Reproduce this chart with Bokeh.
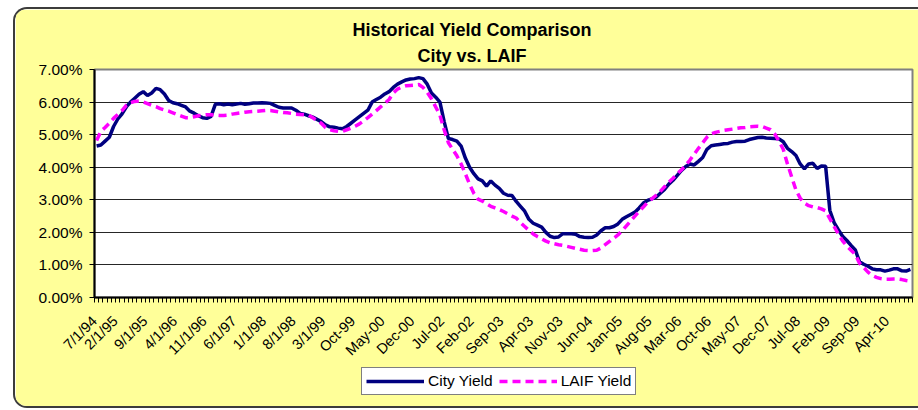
import math
from bokeh.plotting import figure
from bokeh.models import (Range1d, FixedTicker, PrintfTickFormatter, Legend,
                          LegendItem, Title, ColumnDataSource)
from bokeh.embed import file_html
from bokeh.resources import INLINE

# ---------------- data ----------------
title_lines = ["Historical Yield Comparison", "City vs. LAIF"]
series_names = ["City Yield", "LAIF Yield"]
tick_labels = ["7/1/94", "2/1/95", "9/1/95", "4/1/96", "11/1/96", "6/1/97", "1/1/98",
               "8/1/98", "3/1/99", "Oct-99", "May-00", "Dec-00", "Jul-02", "Feb-02",
               "Sep-03", "Apr-03", "Nov-03", "Jun-04", "Jan-05", "Aug-05", "Mar-06",
               "Oct-06", "May-07", "Dec-07", "Jul-08", "Feb-09", "Sep-09", "Apr-10"]
label_step = 7

city_yield = [
    4.65, 4.68, 4.80, 4.92, 5.25, 5.48, 5.64, 5.85, 6.00, 6.12,
    6.24, 6.32, 6.20, 6.28, 6.42, 6.38, 6.25, 6.05, 5.98, 5.95,
    5.90, 5.85, 5.72, 5.66, 5.58, 5.52, 5.50, 5.56, 5.93, 5.95,
    5.92, 5.94, 5.92, 5.94, 5.96, 5.93, 5.95, 5.97, 5.97, 5.98,
    5.97, 5.96, 5.90, 5.84, 5.82, 5.82, 5.82, 5.75, 5.65, 5.63,
    5.58, 5.54, 5.47, 5.40, 5.30, 5.24, 5.23, 5.20, 5.18, 5.25,
    5.35, 5.45, 5.55, 5.65, 5.75, 6.00, 6.08, 6.15, 6.25, 6.32,
    6.45, 6.55, 6.62, 6.68, 6.71, 6.72, 6.75, 6.72, 6.55, 6.28,
    6.15, 6.00, 5.40, 4.88, 4.85, 4.80, 4.65, 4.28, 4.00, 3.80,
    3.64, 3.58, 3.42, 3.58, 3.45, 3.35, 3.20, 3.14, 3.13, 2.95,
    2.80, 2.65, 2.40, 2.28, 2.22, 2.16, 2.00, 1.88, 1.84, 1.86,
    1.96, 1.96, 1.96, 1.94, 1.87, 1.85, 1.84, 1.85, 1.92, 2.05,
    2.14, 2.14, 2.18, 2.26, 2.40, 2.48, 2.55, 2.62, 2.75, 2.90,
    2.98, 3.03, 3.08, 3.20, 3.32, 3.48, 3.60, 3.75, 3.90, 4.02,
    4.10, 4.07, 4.18, 4.30, 4.55, 4.66, 4.68, 4.70, 4.72, 4.73,
    4.77, 4.79, 4.79, 4.80, 4.85, 4.88, 4.91, 4.92, 4.90, 4.89,
    4.88, 4.87, 4.78, 4.58, 4.48, 4.36, 4.10, 3.95, 4.10, 4.12,
    3.96, 4.04, 4.03, 2.67, 2.30, 2.08, 1.88, 1.75, 1.60, 1.46,
    1.10, 1.02, 0.96, 0.88, 0.85, 0.85, 0.81, 0.84, 0.88, 0.88,
    0.82, 0.81, 0.86,
]

laif_yield = [
    4.82, 5.10, 5.22, 5.35, 5.50, 5.62, 5.74, 5.90, 5.98, 6.02,
    6.03, 6.00, 5.95, 5.90, 5.86, 5.80, 5.76, 5.72, 5.67, 5.62,
    5.57, 5.52, 5.52, 5.55, 5.58, 5.60, 5.61, 5.61, 5.60, 5.59,
    5.59, 5.60, 5.63, 5.65, 5.67, 5.69, 5.70, 5.71, 5.72, 5.73,
    5.74, 5.74, 5.72, 5.70, 5.68, 5.67, 5.65, 5.63, 5.62, 5.61,
    5.60, 5.52, 5.43, 5.35, 5.22, 5.15, 5.12, 5.10, 5.10, 5.15,
    5.20, 5.26, 5.33, 5.42, 5.52, 5.63, 5.74, 5.85, 5.96, 6.08,
    6.28, 6.40, 6.46, 6.50, 6.51, 6.52, 6.54, 6.45, 6.30, 6.10,
    5.85, 5.60, 5.15, 4.75, 4.55, 4.35, 4.10, 3.80, 3.48, 3.20,
    3.02, 2.96, 2.88, 2.80, 2.75, 2.70, 2.64, 2.57, 2.50, 2.44,
    2.30, 2.18, 2.06, 1.95, 1.87, 1.80, 1.73, 1.68, 1.65, 1.62,
    1.60, 1.57, 1.54, 1.51, 1.48, 1.45, 1.44, 1.44, 1.45, 1.52,
    1.62, 1.72, 1.82, 1.92, 2.05, 2.20, 2.35, 2.50, 2.65, 2.78,
    2.92, 3.03, 3.14, 3.26, 3.40, 3.54, 3.66, 3.80, 3.92, 4.07,
    4.22, 4.40, 4.58, 4.75, 4.92, 5.02, 5.07, 5.10, 5.13, 5.15,
    5.17, 5.19, 5.21, 5.22, 5.24, 5.25, 5.26, 5.25, 5.20, 5.15,
    5.02, 4.80, 4.55, 4.10, 3.70, 3.30, 3.05, 2.90, 2.82, 2.78,
    2.76, 2.72, 2.66, 2.42, 2.18, 1.95, 1.74, 1.58, 1.45, 1.32,
    1.05, 0.92, 0.78, 0.68, 0.62, 0.58, 0.56, 0.56, 0.57, 0.57,
    0.55, 0.52, 0.50,
]

y_ticks = [0, 1, 2, 3, 4, 5, 6, 7]

# ---------------- styles ----------------
FONT = "Liberation Sans"
CITY_COLOR = "#000080"
LAIF_COLOR = "#FF00FF"
LAIF_DASH = "8 5"
LINE_W = 3.5

# ---------------- main figure ----------------
n = len(city_yield)
xs = [i + 0.5 for i in range(n)]
src = ColumnDataSource(dict(x=xs, city=city_yield, laif=laif_yield))

p = figure(frame_width=818, frame_height=228,
           min_border_left=79, min_border_right=6, min_border_top=60, min_border_bottom=109,
           x_range=Range1d(0, n), y_range=Range1d(0, 7),
           output_backend="svg", toolbar_location=None)
p.styles = {"border": "2px solid #3c3c3c", "border-right": "none",
            "border-radius": "14px 0 0 14px", "overflow": "hidden",
            "margin-left": "13px", "margin-top": "7px"}

p.border_fill_color = "#FFFF99"
p.background_fill_color = "#FFFFFF"
p.outline_line_color = "#808080"
p.outline_line_width = 2

# titles: p.title is the outer line, the added Title sits next to the plot
p.title.text = title_lines[0]
p.title.align = "left"
p.title.offset = 258
p.title.text_font = FONT
p.title.text_font_size = "18px"
p.title.text_font_style = "bold"
p.title.text_color = "#000000"
p.title.standoff = 0
t2 = Title(text=title_lines[1], align="left", offset=323, text_font=FONT,
           text_font_size="18px", text_font_style="bold", text_color="#000000",
           standoff=8)
p.add_layout(t2, "above")

# y axis
p.yaxis.ticker = FixedTicker(ticks=y_ticks)
p.yaxis.formatter = PrintfTickFormatter(format="%.2f%%")
p.yaxis.major_label_text_font = FONT
p.yaxis.major_label_text_font_size = "15.5px"
p.yaxis.major_label_text_color = "#000000"
p.yaxis.major_tick_out = 5
p.yaxis.major_tick_in = 0
p.yaxis.major_tick_line_color = "#000000"
p.yaxis.minor_tick_line_color = None
p.yaxis.axis_line_color = "#000000"
p.yaxis.axis_line_width = 2
p.yaxis.major_label_standoff = 7

# x axis: a tick mark per month, a label every 7th month
label_shift = -2.6
major_pos = [max(0.0, k * label_step + 0.5 + label_shift) for k in range(len(tick_labels))]
p.xaxis.ticker = FixedTicker(ticks=major_pos, minor_ticks=list(range(0, n + 1)))
p.xaxis.major_label_overrides = {pos: lab for pos, lab in zip(major_pos, tick_labels)}
p.xaxis.major_label_orientation = math.pi / 4
p.xaxis.major_label_text_font = FONT
p.xaxis.major_label_text_font_size = "14.5px"
p.xaxis.major_label_text_color = "#000000"
p.xaxis.major_tick_out = 0
p.xaxis.major_tick_in = 0
p.xaxis.minor_tick_out = 5
p.xaxis.minor_tick_in = 0
p.xaxis.minor_tick_line_color = "#000000"
p.xaxis.axis_line_color = "#000000"
p.xaxis.axis_line_width = 2
p.xaxis.major_label_standoff = 16

p.xgrid.grid_line_color = None
p.ygrid.ticker = FixedTicker(ticks=y_ticks)
p.ygrid.grid_line_color = "#000000"
p.ygrid.grid_line_alpha = 0.85

p.line("x", "city", source=src, line_color=CITY_COLOR, line_width=LINE_W)
p.line("x", "laif", source=src, line_color=LAIF_COLOR, line_width=LINE_W,
       line_dash=LAIF_DASH)

# ---------------- legend (small overlay figure) ----------------
# the two carrier lines use the series' first points, which fall outside this
# tiny figure's 0..1 range, so only their legend swatches are visible
lg = figure(width=300, height=34, min_border=0, x_range=Range1d(0, 1), y_range=Range1d(0, 1),
            x_axis_location=None, y_axis_location=None,
            output_backend="svg", toolbar_location=None)
lg.styles = {"position": "absolute", "left": "361px", "top": "367px"}
lg.grid.visible = False
lg.outline_line_color = None
lg.background_fill_color = None
lg.border_fill_color = None
lr_city = lg.line(xs[:2], city_yield[:2], line_color=CITY_COLOR, line_width=LINE_W)
lr_laif = lg.line(xs[:2], laif_yield[:2], line_color=LAIF_COLOR, line_width=LINE_W,
                  line_dash=LAIF_DASH)

legend = Legend(items=[LegendItem(label=series_names[0], renderers=[lr_city]),
                       LegendItem(label=series_names[1], renderers=[lr_laif])],
                orientation="horizontal", location="top_left")
legend.label_text_font = FONT
legend.label_text_font_size = "15.5px"
legend.label_text_color = "#000000"
legend.glyph_width = 58
legend.glyph_height = 14
legend.spacing = 6
legend.padding = 4
legend.margin = 0
legend.label_standoff = 4
legend.border_line_color = "#000000"
legend.border_line_width = 1
legend.background_fill_color = "#FFFFFF"
legend.background_fill_alpha = 1
lg.add_layout(legend, "center")

open("out.html", "w").write(file_html([p, lg], INLINE))
